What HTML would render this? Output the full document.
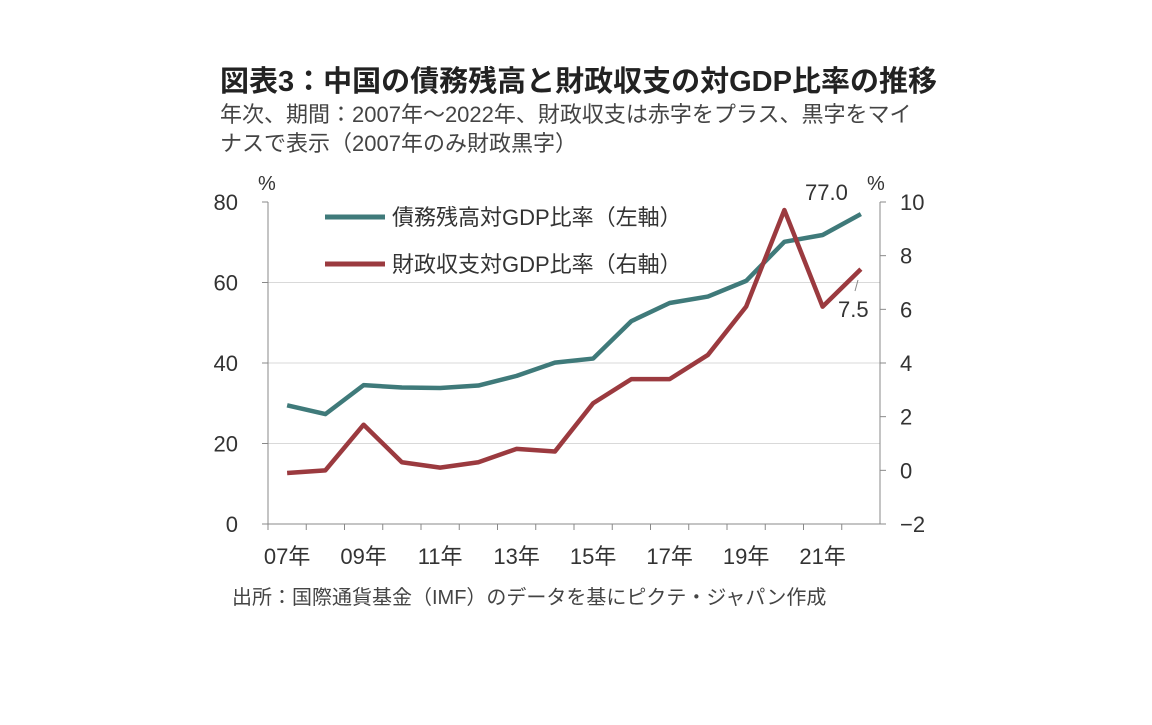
<!DOCTYPE html>
<html><head><meta charset="utf-8"><style>
body{margin:0;background:#fff;width:1152px;height:720px;overflow:hidden;font-family:"Liberation Sans","Noto Sans CJK JP",sans-serif;color:#333}
</style></head><body>
<svg width="1152" height="720" font-family="Liberation Sans, Noto Sans CJK JP, sans-serif">
<text x="220" y="91" font-size="29" font-weight="bold" fill="#222">図表3：中国の債務残高と財政収支の対GDP比率の推移</text>
<text x="220" y="122" font-size="22" fill="#444">年次、期間：2007年～2022年、財政収支は赤字をプラス、黒字をマイ</text>
<text x="220" y="151" font-size="22" fill="#444">ナスで表示（2007年のみ財政黒字）</text>
<text x="258" y="190" font-size="20" fill="#333">%</text>
<text x="867" y="190" font-size="20" fill="#333">%</text>
<g id="grid"></g><g id="axes"></g><g id="series"></g>
<g>
<line x1="325" y1="217" x2="385" y2="217" stroke="#3f7a7a" stroke-width="5"/>
<text x="392" y="225" font-size="22" fill="#333">債務残高対GDP比率（左軸）</text>
<line x1="325" y1="264" x2="385" y2="264" stroke="#9b3a3f" stroke-width="5"/>
<text x="392" y="272" font-size="22" fill="#333">財政収支対GDP比率（右軸）</text>
</g>
<text x="805" y="200" font-size="22" fill="#333">77.0</text>
<line x1="858" y1="280" x2="855" y2="291" stroke="#888" stroke-width="1"/>
<text x="838" y="317" font-size="22" fill="#333">7.5</text>
<text x="232" y="604" font-size="20" fill="#444">出所：国際通貨基金（IMF）のデータを基にピクテ・ジャパン作成</text>
</svg>
<script>
const years=["07","08","09","10","11","12","13","14","15","16","17","18","19","20","21","22"];
const debt=[29.5,27.3,34.5,33.9,33.8,34.4,36.8,40.1,41.1,50.4,54.9,56.5,60.4,70.1,71.8,77.0];
const deficit=[-0.1,0.0,1.7,0.3,0.1,0.3,0.8,0.7,2.5,3.4,3.4,4.3,6.1,9.7,6.1,7.5];
const leftTicks=[0,20,40,60,80];
const rightTicks=[-2,0,2,4,6,8,10];
const NS="http://www.w3.org/2000/svg";
const L=268,R=880,T=202,B=524;
const step=(R-L)/years.length;
const xs=i=>L+step*(i+0.5);
const yL=v=>B-(v-0)/(80-0)*(B-T);
const yR=v=>B-(v+2)/(12)*(B-T);
function mk(t,a,p){const e=document.createElementNS(NS,t);for(const k in a)e.setAttribute(k,a[k]);p.appendChild(e);return e;}
const grid=document.getElementById('grid'),axes=document.getElementById('axes'),ser=document.getElementById('series');
leftTicks.forEach(v=>{
 if(v>0&&v<80){const g=mk('line',{x1:L,x2:R,y1:yL(v),y2:yL(v),stroke:'#d9d9d9','stroke-width':1},grid);
 
 }
 const tk=mk('line',{x1:L-6,x2:L,y1:yL(v),y2:yL(v),stroke:'#888'},axes);
 
 
 const t=mk('text',{x:L-30,y:yL(v)+8,'font-size':22,'text-anchor':'end',fill:'#333'},axes);t.textContent=v;
 
 
});
rightTicks.forEach(v=>{
 const tk=mk('line',{x1:R,x2:R+6,y1:yR(v),y2:yR(v),stroke:'#888'},axes);
 
 
 const t=mk('text',{x:R+20,y:yR(v)+8,'font-size':22,fill:'#333'},axes);t.textContent=v<0?'−'+(-v):v;
 
 
});
const la=mk('line',{x1:L,x2:L,y1:T,y2:B,stroke:'#888'},axes);


const ra=mk('line',{x1:R,x2:R,y1:T,y2:B,stroke:'#888'},axes);


const ba=mk('line',{x1:L,x2:R,y1:B,y2:B,stroke:'#888'},axes);


years.forEach((y,i)=>{
 const tk=mk('line',{x1:L+step*i,x2:L+step*i,y1:B,y2:B+6,stroke:'#888'},axes);
 
 
 if(i%2===0){const t=mk('text',{x:xs(i),y:B+40,'font-size':22,'text-anchor':'middle',fill:'#333'},axes);t.textContent=y+'年';
 
 }
});
const p1=mk('polyline',{points:debt.map((v,i)=>xs(i)+','+yL(v)).join(' '),fill:'none',stroke:'#3f7a7a','stroke-width':4.5,'stroke-linejoin':'round'},ser);


const p2=mk('polyline',{points:deficit.map((v,i)=>xs(i)+','+yR(v)).join(' '),fill:'none',stroke:'#9b3a3f','stroke-width':4.5,'stroke-linejoin':'round'},ser);


</script>
</body></html>
